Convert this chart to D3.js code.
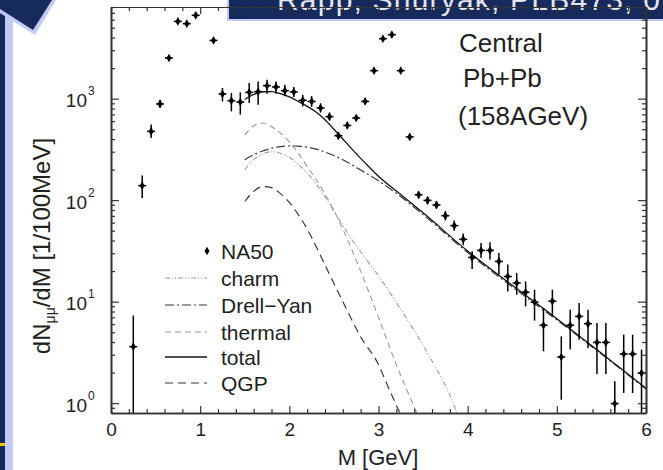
<!DOCTYPE html>
<html><head><meta charset="utf-8">
<script src="https://cdn.jsdelivr.net/npm/d3@7"></script>
<style>
body{margin:0;background:#fff}
svg{display:block}
text{font-family:"Liberation Sans",Arial,Helvetica,sans-serif}
</style>
</head><body>
<svg id="chart" width="663" height="470"></svg>
<script>
// ---------------- data ----------------
const massBins = [0.25,0.35,0.45,0.55,0.65,0.75,0.85,0.95,1.15,1.25,1.35,1.45,1.55,1.65,1.75,1.85,1.95,2.05,2.15,2.25,2.35,2.45,2.55,2.65,2.75,2.85,2.95,3.05,3.15,3.25,3.35,3.45,3.55,3.65,3.75,3.85,3.95,4.05,4.15,4.25,4.35,4.45,4.55,4.65,4.75,4.85,4.95,5.05,5.15,5.25,5.35,5.45,5.55,5.65,5.75,5.85,5.95];
const na50 = [3.6,139,476,887,2515,5770,5480,6620,3750,1112,955,927,1154,1172,1343,1304,1199,1164,962,940,810,665,432,545,645,940,1888,3900,4270,1888,420,113,99.5,89.7,70.3,56.1,41.1,27.3,32,32,24.9,17.7,15.3,12.4,9.9,5.85,10.1,2.85,5.85,7.16,6.07,3.97,3.97,0.99,3.05,3.05,1.98];
const na50Low = [0.5,105,410,810,2380,5550,5270,6380,3550,940,750,695,907,873,1119,1119,1054,1040,840,830,730,610,395,505,605,890,1820,3780,4140,1820,395,104,91,82,63,50,36,21,26.9,25.9,18.5,12.6,11.7,9.0,6.5,3.24,7.16,1.08,3.37,4.22,3.5,1.94,1.94,0.5,1.26,1.26,0.5];
const na50High = [7.3,175,555,975,2660,6000,5700,6870,3960,1274,1138,1153,1428,1480,1538,1480,1374,1304,1094,1060,900,730,470,590,690,990,1960,4020,4400,1960,445,122,108,98,78,63,47,31.3,37.9,38.4,30.2,23.2,19.2,15.8,13.1,8.67,13.1,4.55,8.34,9.7,8.34,6.17,6.17,1.64,4.73,4.73,3.37];
const binHalfWidth = 0.045;

const totalM = [1.5,1.6,1.7,1.8,1.9,2.0,2.1,2.2,2.3,2.4,2.5,2.6,2.7,2.8,2.9,3.0,3.2,3.5,4.0,4.5,5.0,5.5,6.0];
const totalV = [980,1100,1170,1175,1120,1040,940,840,740,620,500,400,320,258,210,172,123,75,31.5,14.5,6.8,3.1,1.4];
const dyM = [1.5,1.6,1.7,1.8,1.9,2.0,2.1,2.2,2.3,2.4,2.5,2.6,2.8,3.0,3.2,3.5,4.0,4.5,5.0,5.5,6.0];
const dyV = [250,280,305,325,337,342,340,333,318,298,275,250,198,155,117,72,30.5,14,6.6,3.05,1.38];
const charmM = [1.5,1.6,1.7,1.8,1.9,2.0,2.1,2.2,2.3,2.4,2.5,2.6,2.7,2.8,3.0,3.2,3.4,3.6,3.8,3.88];
const charmV = [200,250,285,300,290,265,225,185,145,108,78,57,41,31,18,9.8,5.2,2.6,1.2,0.8];
const thermalM = [1.5,1.6,1.7,1.8,1.9,2.0,2.1,2.2,2.4,2.6,2.8,3.0,3.2,3.43];
const thermalV = [440,540,575,530,458,375,290,215,115,52,20,7,2.4,0.8];
const qgpM = [1.5,1.6,1.7,1.8,1.9,2.0,2.1,2.2,2.3,2.4,2.6,2.8,3.0,3.1,3.24];
const qgpV = [97,122,136,133,116,95,72,52,35,23,10,4.5,2.4,1.5,0.8];

const xTicks = [0,1,2,3,4,5,6];
const yDecades = [1,10,100,1000];
const yExponents = ["0","1","2","3"];
const legendLabels = ["NA50","charm","Drell\u2212Yan","thermal","total","QGP"];
const annotation = ["Central","Pb+Pb","(158AGeV)"];
const headerText = "Rapp, Shuryak, PLB473, 0";

// ---------------- layout ----------------
const svg = d3.select("#chart");
const L = 111, R = 646, T = 7, B = 413;
const x = d3.scaleLinear().domain([0,6]).range([L,R]);
const y = d3.scaleLog().domain([0.8,8000]).range([B,T]);

const navy = "#172a5c", lightBlue = "#c3cbf5";

svg.append("rect").attr("width",663).attr("height",470).attr("fill","#fff");

// decorations
svg.append("rect").attr("x",0).attr("y",0).attr("width",5).attr("height",470).attr("fill",navy);
svg.append("rect").attr("x",5).attr("y",12).attr("width",8).attr("height",470).attr("fill",lightBlue);
svg.append("polygon").attr("points","0,0 56,0 35,35 0,13").attr("fill",lightBlue);
svg.append("polygon").attr("points","0,0 52,0 33,30 0,9").attr("fill",navy);
svg.append("rect").attr("x",0).attr("y",443).attr("width",5).attr("height",3).attr("fill","#f2c200");

// header
svg.append("rect").attr("x",227).attr("y",-2).attr("width",440).attr("height",23).attr("fill",lightBlue);
svg.append("rect").attr("x",229).attr("y",-2).attr("width",440).attr("height",21).attr("fill",navy);
svg.append("text").attr("x",277).attr("y",10).attr("font-size",30).attr("letter-spacing",1.2)
  .attr("fill","#e4e6ee").text(headerText);

// clip
svg.append("clipPath").attr("id","clip").append("rect").attr("x",L).attr("y",T).attr("width",R-L).attr("height",B-T);
const plot = svg.append("g").attr("clip-path","url(#clip)");

// curves
const line = d3.line().x(d=>x(d[0])).y(d=>y(d[1])).curve(d3.curveMonotoneX);
const curves = [
  {m:charmM, v:charmV, color:"#9a9a9a", dash:"5,2,1,2,1,2", w:1.1},
  {m:dyM, v:dyV, color:"#3a3a3a", dash:"9,3,2,3", w:1.2},
  {m:thermalM, v:thermalV, color:"#9a9a9a", dash:"6,4", w:1.1},
  {m:totalM, v:totalV, color:"#111", dash:null, w:1.3},
  {m:qgpM, v:qgpV, color:"#3a3a3a", dash:"8,5", w:1.2}
];
curves.forEach(c=>{
  plot.append("path").datum(c.m.map((m,i)=>[m,c.v[i]]))
    .attr("d",line).attr("fill","none").attr("stroke",c.color)
    .attr("stroke-width",c.w).attr("stroke-dasharray",c.dash);
});

// data points
const pts = plot.append("g");
massBins.forEach((m,i)=>{
  pts.append("line").attr("x1",x(m)).attr("x2",x(m)).attr("y1",y(na50Low[i])).attr("y2",y(na50High[i]))
    .attr("stroke","#000").attr("stroke-width",1.5);
  pts.append("line").attr("x1",x(m-binHalfWidth)).attr("x2",x(m+binHalfWidth)).attr("y1",y(na50[i])).attr("y2",y(na50[i]))
    .attr("stroke","#000").attr("stroke-width",1.5);
});
pts.selectAll("path.pt").data(massBins).join("path").attr("class","pt")
  .attr("transform",(m,i)=>`translate(${x(m)},${y(na50[i])})`)
  .attr("d",d3.symbol(d3.symbolDiamond,22)).attr("fill","#000");

// axes
const axColor = "#333";
function styleAxis(g){
  g.selectAll("path.domain").attr("stroke",axColor).attr("stroke-width",1.6);
  g.selectAll(".tick line").attr("stroke",axColor).attr("stroke-width",1.2);
}
const minorX = d3.range(0,30.5,1).map(d=>d/5).filter(d=>!xTicks.includes(d));
const minorY = [];
[0.1,1,10,100,1000].forEach(dec=>{ for(let k=2;k<=9;k++){ const v=dec*k; if(v>=0.8 && v<=8000) minorY.push(v);} });

const gB = svg.append("g").attr("transform",`translate(0,${B})`)
  .call(d3.axisBottom(x).tickValues(xTicks).tickSize(-7).tickSizeOuter(0).tickPadding(10).tickFormat(d3.format("d")));
gB.append("g").call(d3.axisBottom(x).tickValues(minorX).tickSize(-4).tickSizeOuter(0).tickFormat(""));
gB.selectAll("text").attr("font-size",19).attr("fill","#222").attr("font-family","Liberation Sans, Arial, sans-serif");
styleAxis(gB); gB.select("g").select("path.domain").remove();

const gT = svg.append("g").attr("transform",`translate(0,${T})`)
  .call(d3.axisTop(x).tickValues(xTicks).tickSize(-7).tickSizeOuter(0).tickFormat(""));
gT.append("g").call(d3.axisTop(x).tickValues(minorX).tickSize(-4).tickSizeOuter(0).tickFormat(""));
styleAxis(gT); gT.selectAll("path.domain").attr("stroke-width",1);

const gL = svg.append("g").attr("transform",`translate(${L},0)`)
  .call(d3.axisLeft(y).tickValues(yDecades).tickSize(-8).tickSizeOuter(0).tickFormat(""));
gL.append("g").call(d3.axisLeft(y).tickValues(minorY).tickSize(-4).tickSizeOuter(0).tickFormat(""));
styleAxis(gL);

const gR = svg.append("g").attr("transform",`translate(${R},0)`)
  .call(d3.axisRight(y).tickValues(yDecades).tickSize(-8).tickSizeOuter(0).tickFormat(""));
gR.append("g").call(d3.axisRight(y).tickValues(minorY).tickSize(-4).tickSizeOuter(0).tickFormat(""));
styleAxis(gR);

// y tick labels 10^n
yDecades.forEach((v,i)=>{
  svg.append("text").attr("x",87).attr("y",y(v)+8.5).attr("text-anchor","end").attr("font-size",19).attr("fill","#222").text("10");
  svg.append("text").attr("x",88).attr("y",y(v)-3.5).attr("font-size",12).attr("fill","#222").text(yExponents[i]);
});

// axis titles
svg.append("text").attr("x",378).attr("y",465).attr("text-anchor","middle").attr("font-size",22).attr("fill","#222").text("M [GeV]");
const yl = svg.append("text").attr("transform","translate(50,246) rotate(-90)").attr("text-anchor","middle").attr("font-size",24).attr("fill","#222");
yl.append("tspan").text("dN");
yl.append("tspan").attr("font-size",14).attr("dy",5).text("\u03bc\u03bc");
yl.append("tspan").attr("dy",-5).text("/dM [1/100MeV]");

// legend
const legY = [251,278,305,332,357,383];
svg.append("path").attr("transform",`translate(207,${legY[0]})`).attr("d",d3.symbol(d3.symbolDiamond,22)).attr("fill","#000");
curves.forEach((c,i)=>{
  svg.append("line").attr("x1",165).attr("x2",207).attr("y1",legY[i+1]).attr("y2",legY[i+1])
    .attr("stroke",c.color).attr("stroke-width",c.w).attr("stroke-dasharray",c.dash);
});
legendLabels.forEach((t,i)=>{
  svg.append("text").attr("x",221).attr("y",legY[i]+7.5).attr("font-size",21).attr("fill","#222").text(t);
});

// annotation
const annX = [459,463,458], annY = [52,87,125];
annotation.forEach((t,i)=>{
  svg.append("text").attr("x",annX[i]).attr("y",annY[i]).attr("font-size",26).attr("fill","#222").text(t);
});
</script>
</body></html>
